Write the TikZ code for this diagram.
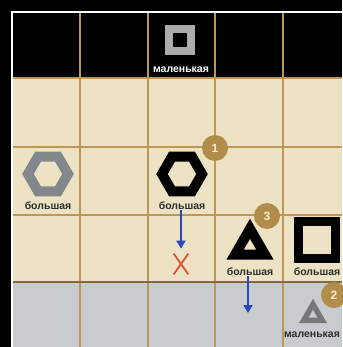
\documentclass[tikz,border=0pt]{standalone}
\usepackage{fontspec}
\setmainfont{Liberation Sans}
\usetikzlibrary{shapes.geometric, shapes.misc, arrows.meta, positioning}
\definecolor{beige}{RGB}{237,227,196}
\definecolor{gridgold}{RGB}{190,150,85}
\definecolor{greyrow}{RGB}{200,203,207}
\definecolor{badgegold}{RGB}{178,140,75}
\definecolor{cream}{RGB}{250,236,205}
\definecolor{arrowblue}{RGB}{40,70,190}
\definecolor{crossred}{RGB}{225,80,60}
\definecolor{figgrey}{RGB}{130,135,140}
\definecolor{labelgrey}{RGB}{45,45,45}
\tikzstyle{hexring} = [regular polygon, regular polygon sides=6, minimum size=40pt, inner sep=0pt, line width=10pt]
\tikzstyle{triring} = [regular polygon, regular polygon sides=3, inner sep=0pt]
\tikzstyle{sqring} = [rectangle, inner sep=0pt]
\tikzstyle{lbl} = [inner sep=0pt, text=labelgrey, font=\bfseries\fontsize{10.5}{11}\selectfont]
\tikzstyle{badge} = [circle, fill=badgegold, text=cream, minimum size=26pt, inner sep=0pt, font=\bfseries\fontsize{12}{12}\selectfont]
\tikzstyle{arrow} = [line width=2pt, draw=arrowblue, -{Triangle[width=9pt,length=8pt]}]

\begin{document}
\begin{tikzpicture}[x=1pt, y=-1pt]
  % board
  \fill[black] (0,0) rectangle (342,347);
  \useasboundingbox (0,0) rectangle (342,347);
  \fill[beige] (12,78) rectangle (342,282);
  \fill[greyrow] (12,282) rectangle (342,347);
  \foreach \x in {80,148,215,283}
    \draw[gridgold, line width=1.6pt] (\x,12) -- (\x,347);
  \foreach \y in {78,147,215}
    \draw[gridgold, line width=1.6pt] (12,\y) -- (342,\y);
  \draw[gridgold!70!black, line width=2.4pt] (12,282) -- (342,282);
  \draw[white, line width=2pt] (12,347) -- (12,12) -- (342,12);

  % pieces
  \node[sqring, draw=gray!65, line width=8pt, minimum size=22pt] (sqtop) at (180,40) {};
  \node[lbl, text=white] (lbltop) at (181,70) {маленькая};
  \node[hexring, draw=figgrey] (hexg) at (48,174) {};
  \node[lbl] (lblhexg) at (48,206) {большая};
  \node[hexring, draw=black] (hexb) at (182,174) {};
  \node[lbl] (lblhexb) at (182,206) {большая};
  \node[cross out, draw=crossred, line width=1.8pt, minimum width=13pt, minimum height=19pt, inner sep=0pt] (cross) at (181,264) {};
  \node[triring, draw=black, line width=10pt, minimum size=34.4pt] (trib) at (250,246) {};
  \node[lbl] (lbltri) at (250,272) {большая};
  \node[sqring, draw=black, line width=9pt, minimum size=37pt] (sqb) at (317,240) {};
  \node[lbl] (lblsq) at (317,272) {большая};
  \node[triring, draw=figgrey!90!black, line width=5.5pt, minimum size=21.4pt] (trig) at (313,315) {};
  \node[lbl] (lblsmall) at (312,335) {маленькая};

  % moves
  \coordinate (drop) at (248,313);
  \draw[arrow, shorten >=5pt] (lblhexb.south -| cross.north) -- (cross.north);
  \draw[arrow] (lbltri.south -| drop) -- (drop);

  \node[badge] (b1) at (215,148) {1};
  \node[badge] (b3) at (267,216) {3};
  \node[badge] (b2) at (334,295) {2};
\end{tikzpicture}
\end{document}
